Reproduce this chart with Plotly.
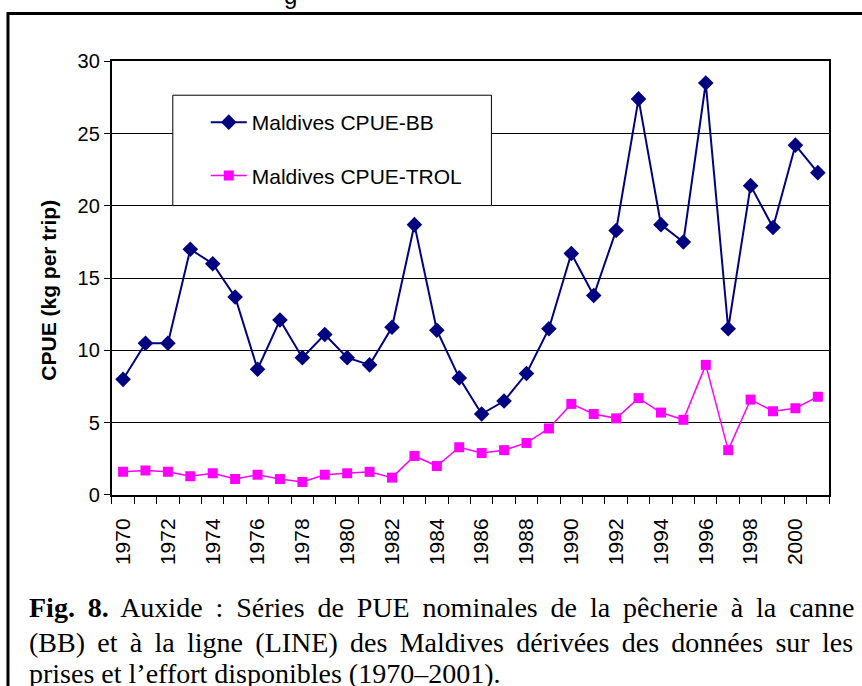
import plotly.graph_objects as go

W, H = 862, 686

years = list(range(1970, 2002))
cpue_bb = [8.0, 10.5, 10.5, 17.0, 16.0, 13.7, 8.7, 12.1, 9.5, 11.1, 9.5, 9.0,
           11.6, 18.7, 11.4, 8.1, 5.6, 6.5, 8.4, 11.5, 16.7, 13.8, 18.3, 27.4,
           18.7, 17.5, 28.5, 11.5, 21.4, 18.5, 24.2, 22.3]
cpue_trol = [1.6, 1.7, 1.6, 1.3, 1.5, 1.1, 1.4, 1.1, 0.9, 1.4, 1.5, 1.6,
             1.2, 2.7, 2.0, 3.3, 2.9, 3.1, 3.6, 4.6, 6.3, 5.6, 5.3, 6.7,
             5.7, 5.2, 9.0, 3.1, 6.6, 5.8, 6.0, 6.8]
tick_years = list(range(1970, 2001, 2))
y_ticks = [0, 5, 10, 15, 20, 25, 30]

caption = [
    "<b>Fig. 8.</b> Auxide : Séries de PUE nominales de la pêcherie à la canne",
    "(BB) et à la ligne (LINE) des Maldives dérivées des données sur les",
    "prises et l’effort disponibles (1970–2001).",
]
# the caption is justified in the original: widen the word gaps of lines 1-2
caption_word_gap = [5.9, 5.3, 0]


def px_x(p):
    return p / W


def px_y(p):
    return 1 - p / H


fig = go.Figure()

fig.add_trace(go.Scatter(
    x=years, y=cpue_bb, mode="lines+markers", name="Maldives CPUE-BB",
    legendgroup="bb",
    line=dict(color="#000080", width=2),
    marker=dict(symbol="diamond", size=12, color="#000080"),
))
fig.add_trace(go.Scatter(
    x=years, y=cpue_trol, mode="lines+markers", name="Maldives CPUE-TROL",
    legendgroup="trol",
    line=dict(color="#FF00FF", width=1.5),
    marker=dict(symbol="square", size=10, color="#FF00FF"),
))

arial = "Arial, Liberation Sans, sans-serif"
serif = "Times New Roman, Liberation Serif, serif"

fig.update_layout(
    width=W, height=H,
    margin=dict(l=0, r=0, t=0, b=0),
    paper_bgcolor="white", plot_bgcolor="white",
    font=dict(family=arial, color="black", size=20),
    showlegend=True,
    legend=dict(
        x=px_x(205), y=px_y(94), xanchor="left", yanchor="top",
        bgcolor="rgba(0,0,0,0)", borderwidth=0,
        font=dict(family=arial, size=21, color="black"),
        tracegroupgap=23, itemwidth=36,
    ),
    xaxis=dict(
        domain=[px_x(111), px_x(829)],
        range=[1969.5, 2001.5],
        tickmode="array", tickvals=tick_years,
        ticktext=[str(y) for y in tick_years],
        tickangle=-90, ticks="", ticklabelstandoff=13,
        tickfont=dict(size=21),
        showgrid=False, zeroline=False,
        showline=True, linecolor="black", linewidth=2, mirror=True,
        minor=dict(tick0=1969.5, dtick=1, ticks="outside", ticklen=7,
                   tickcolor="black", tickwidth=1, showgrid=False),
    ),
    yaxis=dict(
        domain=[px_y(500), px_y(52)],
        range=[0, 30],
        tickmode="array", tickvals=y_ticks,
        ticks="outside", ticklen=6, tickcolor="black",
        tickfont=dict(size=20),
        showgrid=True, gridcolor="black", gridwidth=1,
        zeroline=False,
        showline=True, linecolor="black", linewidth=2, mirror=True,
    ),
)

shapes = [
    # outer figure frame
    dict(type="rect", xref="paper", yref="paper",
         x0=px_x(7), x1=1.2, y0=-0.2, y1=px_y(2.5),
         line=dict(color="black", width=3), fillcolor="rgba(0,0,0,0)"),
    # legend box
    dict(type="rect", xref="paper", yref="paper", layer="above",
         x0=px_x(172), x1=px_x(491), y0=px_y(201), y1=px_y(87),
         line=dict(color="black", width=1), fillcolor="white"),
]
fig.update_layout(shapes=shapes)

annotations = [
    dict(text="<b>CPUE (kg per trip)</b>", x=px_x(48), y=px_y(288),
         xref="paper", yref="paper", xanchor="center", yanchor="middle",
         showarrow=False, textangle=-90,
         font=dict(family=arial, size=21, color="black")),
    dict(text="g", x=px_x(290), y=px_y(0.5), xref="paper", yref="paper",
         xanchor="center", yanchor="bottom", showarrow=False,
         font=dict(family=arial, size=24, color="black")),
]
for text, gap, ypix in zip(caption, caption_word_gap, [616, 652, 684]):
    annotations.append(dict(
        text=f'<span style="word-spacing:{gap}px">{text}</span>',
        x=px_x(26), y=px_y(ypix), xref="paper", yref="paper",
        xanchor="left", yanchor="middle", showarrow=False,
        font=dict(family=serif, size=28, color="black"),
    ))
fig.update_layout(annotations=annotations)

fig.write_html("out.html", post_script="document.body.style.margin='0px';",
               config={"displayModeBar": False})
